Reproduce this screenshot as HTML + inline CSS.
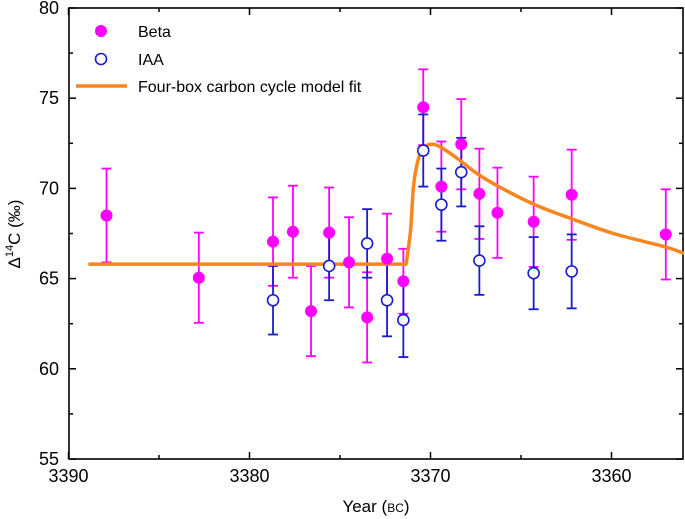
<!DOCTYPE html>
<html><head><meta charset="utf-8"><style>
body{margin:0;background:#fff;}
svg{display:block;font-family:"Liberation Sans",Arial,sans-serif;}
</style></head><body>
<svg id="chart" width="685" height="519" viewBox="0 0 685 519"></svg>
<script>
const betaYears=[3387.9,3382.8,3378.7,3377.6,3376.6,3375.6,3374.5,3373.5,3372.4,3371.5,3370.4,3369.4,3368.3,3367.3,3366.3,3364.3,3362.2,3357.0];
const betaValues=[68.5,65.05,67.05,67.6,63.2,67.55,65.9,62.85,66.1,64.85,74.5,70.1,72.45,69.7,68.65,68.15,69.65,67.45];
const betaErrors=[2.6,2.5,2.45,2.55,2.5,2.5,2.5,2.5,2.5,1.8,2.1,2.5,2.5,2.5,2.5,2.5,2.5,2.5];
const iaaYears=[3378.7,3375.6,3373.5,3372.4,3371.5,3370.4,3369.4,3368.3,3367.3,3364.3,3362.2];
const iaaValues=[63.8,65.7,66.95,63.8,62.7,72.1,69.1,70.9,66.0,65.3,65.4];
const iaaErrors=[1.9,1.9,1.9,2.0,2.05,2.0,2.0,1.9,1.9,2.0,2.05];
const fitYears=[3388.9,3371.35,3371.1,3370.94,3370.72,3370.44,3370.0,3369.45,3368.51,3367.4,3366.13,3364.25,3362.15,3359.89,3357.0,3356.0];
const fitValues=[65.8,65.8,67.7,70.1,71.44,72.17,72.44,72.3,71.65,70.8,70.05,69.1,68.3,67.5,66.75,66.4];
const xTicks=[3390,3380,3370,3360];
const yTicks=[55,60,65,70,75,80];

const NS="http://www.w3.org/2000/svg";
const svg=document.getElementById('chart');
const L=69,R=683,T=8,B=459;
const X=y=>68.5+(3390-y)*18.1;
const Y=v=>B-(v-55)*18.04;
function mk(tag,attrs,parent){const e=document.createElementNS(NS,tag);for(const k in attrs)e.setAttribute(k,attrs[k]);(parent||svg).appendChild(e);return e;}

const frame=mk('rect',{x:L,y:T,width:R-L,height:B-T,fill:'none',stroke:'#000','stroke-width':1.6});



xTicks.forEach(t=>{
  const x=X(t);
  mk('line',{x1:x,y1:B,x2:x,y2:B-7,stroke:'#000','stroke-width':1.5});
  mk('line',{x1:x,y1:T,x2:x,y2:T+7,stroke:'#000','stroke-width':1.5});
  const xm=X(t-5);
  if(xm<R){mk('line',{x1:xm,y1:B,x2:xm,y2:B-4,stroke:'#000','stroke-width':1.5});mk('line',{x1:xm,y1:T,x2:xm,y2:T+4,stroke:'#000','stroke-width':1.5});}
  const tx=mk('text',{x:x,y:B+23,'text-anchor':'middle','font-size':18});
  tx.textContent=t;
  
  
});
yTicks.forEach(t=>{
  const y=Y(t);
  mk('line',{x1:L,y1:y,x2:L+7,y2:y,stroke:'#000','stroke-width':1.5});
  mk('line',{x1:R,y1:y,x2:R-7,y2:y,stroke:'#000','stroke-width':1.5});
  if(t<80){const ym=Y(t+2.5);mk('line',{x1:L,y1:ym,x2:L+4,y2:ym,stroke:'#000','stroke-width':1.5});mk('line',{x1:R,y1:ym,x2:R-4,y2:ym,stroke:'#000','stroke-width':1.5});}
  const tx=mk('text',{x:L-10,y:y+6,'text-anchor':'end','font-size':18});
  tx.textContent=t;
  
  
});

function errbar(yr,v,e,color,name){
  const g=mk('g',{stroke:color,'stroke-width':1.8});
  
  
  const x=X(yr);
  mk('line',{x1:x,y1:Y(v-e),x2:x,y2:Y(v+e)},g);
  mk('line',{x1:x-5,y1:Y(v-e),x2:x+5,y2:Y(v-e)},g);
  mk('line',{x1:x-5,y1:Y(v+e),x2:x+5,y2:Y(v+e)},g);
}
betaYears.forEach((yr,i)=>errbar(yr,betaValues[i],betaErrors[i],'#ff00ff','beta-error-bar'));
iaaYears.forEach((yr,i)=>errbar(yr,iaaValues[i],iaaErrors[i],'#1a1ad0','iaa-error-bar'));

// smooth fit line (Catmull-Rom)
const P=fitYears.map((yr,i)=>[X(yr),Y(fitValues[i])]);
let d='M'+P[0][0]+','+P[0][1]+' L'+P[1][0]+','+P[1][1];
for(let i=1;i<P.length-1;i++){
  const p0=P[i-1],p1=P[i],p2=P[i+1],p3=P[Math.min(i+2,P.length-1)];
  const t=(i===1)?0:1;
  const c1=[p1[0]+(p2[0]-p0[0])/6*t,p1[1]+(p2[1]-p0[1])/6*t];
  const c2=[p2[0]-(p3[0]-p1[0])/6,p2[1]-(p3[1]-p1[1])/6];
  d+=' C'+c1[0].toFixed(1)+','+c1[1].toFixed(1)+' '+c2[0].toFixed(1)+','+c2[1].toFixed(1)+' '+p2[0].toFixed(1)+','+p2[1].toFixed(1);
}
const fit=mk('path',{d:d,fill:'none',stroke:'#f7861e','stroke-width':3.5,'stroke-linejoin':'round'});



betaYears.forEach((yr,i)=>{
  const c=mk('circle',{cx:X(yr),cy:Y(betaValues[i]),r:6,fill:'#ff00ff'});
  
  
});
iaaYears.forEach((yr,i)=>{
  const c=mk('circle',{cx:X(yr),cy:Y(iaaValues[i]),r:5.5,fill:'#fff',stroke:'#1a1ad0','stroke-width':1.6});
  
  
});

const lg=mk('g',{});


mk('circle',{cx:101,cy:31,r:6,fill:'#ff00ff'},lg);
let t1=mk('text',{x:138,y:37,'font-size':16},lg);t1.textContent='Beta';


mk('circle',{cx:101,cy:59,r:5.5,fill:'#fff',stroke:'#1a1ad0','stroke-width':1.6},lg);
let t2=mk('text',{x:138,y:65,'font-size':16},lg);t2.textContent='IAA';


mk('line',{x1:76,y1:86,x2:127,y2:86,stroke:'#f7861e','stroke-width':3.5},lg);
let t3=mk('text',{x:138,y:92,'font-size':16},lg);t3.textContent='Four-box carbon cycle model fit';


</script>
<svg style="position:absolute;left:0;top:0" width="685" height="519">
<text transform="translate(20,234) rotate(-90)" text-anchor="middle" font-size="17" font-family="Liberation Sans, sans-serif">Δ<tspan font-size="11" dy="-7">14</tspan><tspan dy="7">C (‰)</tspan></text>
<text x="376" y="512" text-anchor="middle" font-size="17" font-family="Liberation Sans, sans-serif">Year (<tspan font-size="12">BC</tspan>)</text>
</svg>
</body></html>
